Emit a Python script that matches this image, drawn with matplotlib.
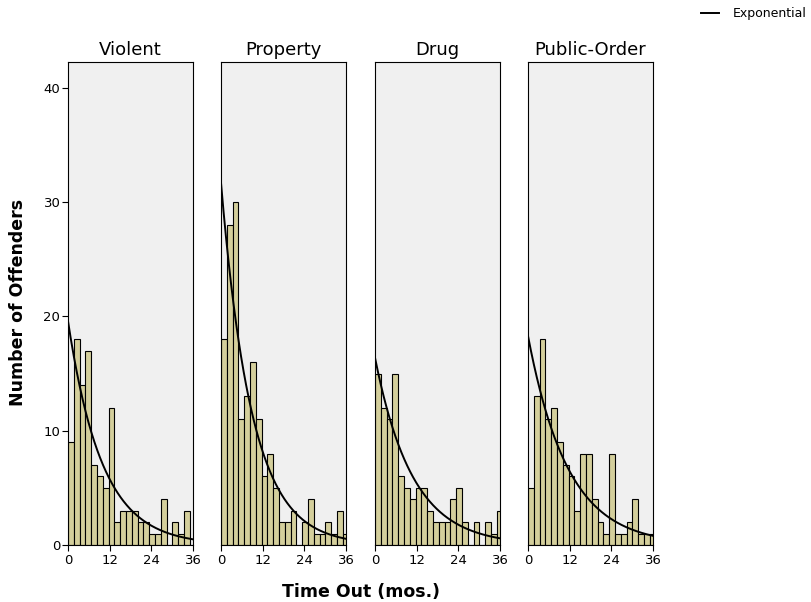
import numpy as np
import matplotlib
matplotlib.use("Agg")
import matplotlib.pyplot as plt

groups = ["Violent", "Property", "Drug", "Public-Order"]
bin_width = 1.67  # months per bar

violent = [9, 18, 14, 17, 7, 6, 5, 12, 2, 3, 3, 3, 2, 2, 1, 1, 4, 0, 2, 1, 3, 0]
property_ = [18, 28, 30, 11, 13, 16, 11, 6, 8, 5, 2, 2, 3, 0, 2, 4, 1, 1, 2, 1, 3, 1]
drug = [15, 12, 11, 15, 6, 5, 4, 5, 5, 3, 2, 2, 2, 4, 5, 2, 0, 2, 0, 2, 1, 3]
public_order = [5, 13, 18, 11, 12, 9, 7, 6, 3, 8, 8, 4, 2, 1, 8, 1, 1, 2, 4, 1, 1, 1]

# mean time out used by the exponential fit
fit_mean = [9.8, 8.85, 10.8, 11.5]

x_ticks = [0, 12, 24, 36]
y_ticks = [0, 10, 20, 30, 40]

counts = [violent, property_, drug, public_order]

bar_color = "#D4CF9C"
panel_bg = "#F0F0F0"

fig = plt.figure(figsize=(8.12, 6.02), dpi=100)
fig.patch.set_facecolor("white")

lefts = [68, 221, 375, 528]
axes = []
for k, name in enumerate(groups):
    ax = fig.add_axes([lefts[k] / 812, 57 / 602, 125 / 812, 483 / 602])
    ax.set_facecolor(panel_bg)
    n = counts[k]
    edges = np.arange(len(n)) * bin_width
    ax.bar(edges, n, width=bin_width, align="edge", color=bar_color,
           edgecolor="black", linewidth=0.8, zorder=2)

    xs = np.linspace(0, 36, 300)
    scale = sum(n) * bin_width / fit_mean[k]
    line, = ax.plot(xs, scale * np.exp(-xs / fit_mean[k]), color="black",
                    linewidth=1.4, zorder=3)

    ax.set_xlim(0, 36)
    ax.set_ylim(0, 42.27)
    ax.set_xticks(x_ticks)
    ax.set_xticklabels([str(t) for t in x_ticks], fontsize=9.5)
    ax.tick_params(axis="x", direction="out", length=4.5, width=0.8, pad=2)
    if k == 0:
        ax.set_yticks(y_ticks)
        ax.set_yticklabels([str(t) for t in y_ticks], fontsize=9.5)
        ax.tick_params(axis="y", direction="out", length=4.5, width=0.8, pad=1)
    else:
        ax.set_yticks([])
    for s in ax.spines.values():
        s.set_color("black")
        s.set_linewidth(0.8)
    ax.set_title(name, fontsize=13, pad=5)
    axes.append(ax)

fig.text(0.4446, 0.0166, "Time Out (mos.)", fontsize=12.5, fontweight="bold",
         ha="center", va="center")
fig.text(0.0222, 0.498, "Number of Offenders", fontsize=12.5, fontweight="bold",
         rotation=90, ha="center", va="center")

fig.legend(handles=[line], labels=["Exponential"], loc="center left",
           bbox_to_anchor=(701 / 812, 1 - 14 / 602), frameon=False,
           handlelength=1.45, handletextpad=1.1, borderaxespad=0, borderpad=0,
           fontsize=9)

fig.savefig("out.png", dpi=100)
